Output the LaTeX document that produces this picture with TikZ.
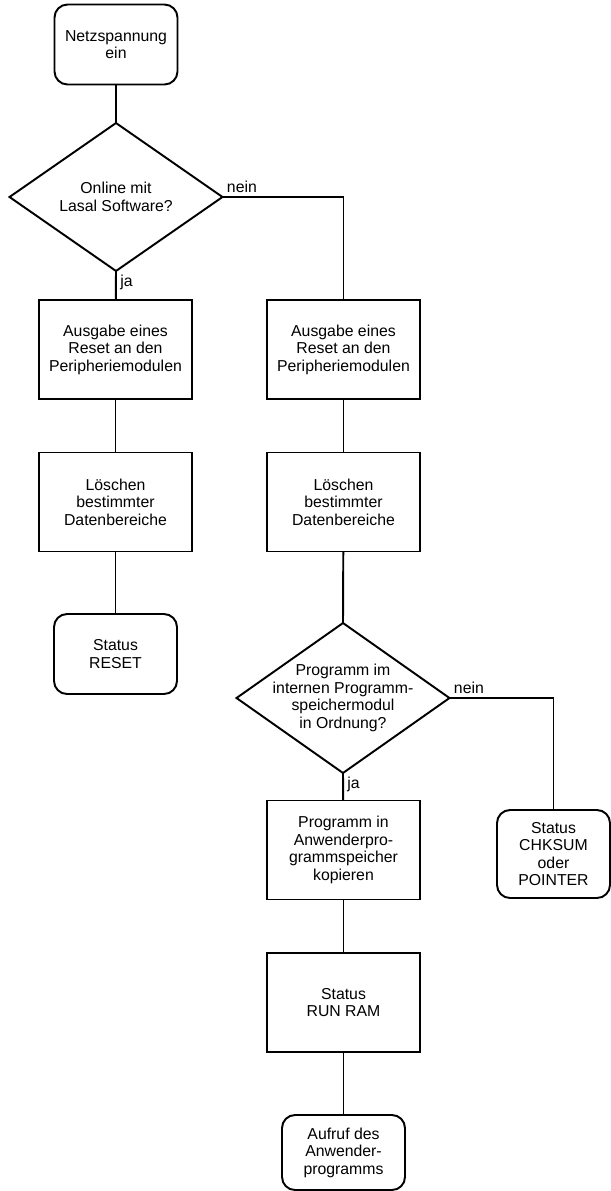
\documentclass[tikz,border=0pt]{standalone}
\usepackage{fontspec}
\setmainfont{Liberation Sans}
\usetikzlibrary{shapes.geometric}

\tikzset{
    box/.style={rectangle, draw, line width=1.1pt, minimum width=3.06cm, minimum height=1.98cm, align=center, outer sep=0pt},
    endbox/.style={rectangle, rounded corners=0.26cm, draw, line width=1.1pt, minimum width=2.46cm, minimum height=1.6cm, align=center, outer sep=0pt},
    ask/.style={diamond, draw, line width=1.1pt, minimum width=4.26cm, minimum height=2.96cm, inner sep=0pt, outer sep=0pt},
    lbl/.style={inner sep=2pt}
}

\begin{document}
\begin{tikzpicture}[x=0.02cm, y=-0.02cm, font=\fontsize{9}{10}\selectfont]
        \useasboundingbox (0, 0) rectangle (611, 1191);

        % left branch
        \node[endbox] (1) at (116, 44.5) {Netzspannung\\ein};
        \node[ask, label={[align=center]center:Online mit\\Lasal Software?}] (2) at (116, 197) {};
        \node[box] (3) at (115.5, 349.5) {Ausgabe eines\\Reset an den\\Peripheriemodulen};
        \node[box] (4) at (115.5, 502) {L\"oschen\\bestimmter\\Datenbereiche};
        \node[endbox] (5) at (115.5, 654) {Status\\RESET};

        % right branch
        \node[box] (6) at (343.5, 349.5) {Ausgabe eines\\Reset an den\\Peripheriemodulen};
        \node[box] (7) at (343.5, 502) {L\"oschen\\bestimmter\\Datenbereiche};
        \node[ask, minimum height=3cm, label={[align=center]center:Programm im\\internen Programm-\\speichermodul\\in Ordnung?}] (8) at (343, 698) {};
        \node[box] (9) at (343.5, 850) {Programm in\\Anwenderpro-\\grammspeicher\\kopieren};
        \node[box] (10) at (343.5, 1002.5) {Status\\RUN RAM};
        \node[endbox, minimum height=1.5cm] (11) at (343.5, 1152.5) {Aufruf des\\Anwender-\\programms};
        \node[endbox, minimum width=2.26cm, minimum height=1.76cm] (12) at (553.5, 854) {Status\\CHKSUM\\oder\\POINTER};

        \draw[line width=1.1pt] (1) -- (2);
        \draw[line width=1.1pt] (2.south) node[below right, lbl] {ja} -- (3);
        \draw[line width=1.1pt] (3) -- (4);
        \draw[line width=1.1pt] (4) -- (5);
        \draw[line width=1.1pt] (2.east) node[above right, lbl] {nein} -| (6.north);
        \draw[line width=1.1pt] (6) -- (7);
        \draw[line width=1.1pt] (7) -- (8.north);
        \draw[line width=1.1pt] (8.south) node[below right, lbl] {ja} -- (9);
        \draw[line width=1.1pt] (9) -- (10);
        \draw[line width=1.1pt] (10) -- (11);
        \draw[line width=1.1pt] (8.east) node[above right, lbl] {nein} -| (12.north);

        \end{tikzpicture}
\end{document}
